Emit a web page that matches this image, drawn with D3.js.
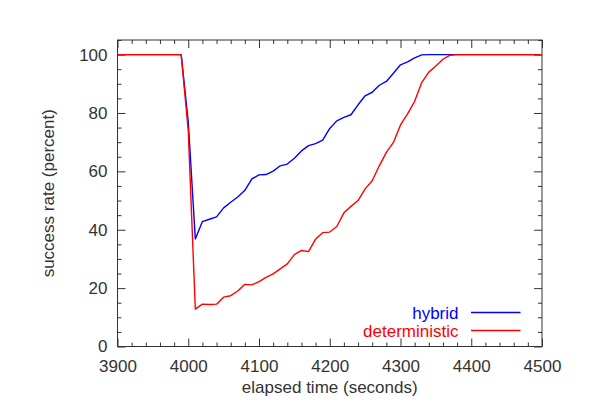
<!DOCTYPE html>
<html>
<head>
<meta charset="utf-8">
<script src="https://cdn.jsdelivr.net/npm/d3@7"></script>
<style>
  body { margin: 0; background: #fff; }
  text { font-family: "Liberation Sans", Arial, Helvetica, sans-serif; }
</style>
</head>
<body>
<div id="chart"></div>
<script>

// elapsed time, one sample every 10 seconds
var times = [
  3900, 3910, 3920, 3930, 3940, 3950, 3960, 3970, 3980, 3990,
  4000, 4010, 4020, 4030, 4040, 4050, 4060, 4070, 4080, 4090,
  4100, 4110, 4120, 4130, 4140, 4150, 4160, 4170, 4180, 4190,
  4200, 4210, 4220, 4230, 4240, 4250, 4260, 4270, 4280, 4290,
  4300, 4310, 4320, 4330, 4340, 4350, 4360, 4370, 4380, 4390,
  4400, 4410, 4420, 4430, 4440, 4450, 4460, 4470, 4480, 4490,
  4500
];

var hybrid = [
  100, 100, 100, 100, 100, 100, 100, 100, 100, 100,
  77, 36.8, 42.8, 43.6, 44.4, 47.5, 49.4, 51.2, 53.5, 57.4,
  58.8, 58.9, 60.1, 61.9, 62.5, 64.5, 67.0, 68.8, 69.5, 70.7,
  74.7, 77.3, 78.5, 79.4, 82.8, 85.9, 87.1, 89.5, 90.8, 93.6,
  96.5, 97.5, 98.9, 99.9, 100, 100, 100, 100, 100, 100,
  100, 100, 100, 100, 100, 100, 100, 100, 100, 100,
  100
];

var deterministic = [
  100, 100, 100, 100, 100, 100, 100, 100, 100, 100,
  74, 12.8, 14.5, 14.4, 14.5, 16.9, 17.4, 19.0, 21.3, 21.1,
  22.2, 23.7, 24.9, 26.6, 28.3, 31.5, 32.9, 32.5, 36.8, 39.0,
  39.2, 41.1, 45.8, 48.0, 50.0, 54.0, 56.8, 61.9, 66.5, 69.9,
  75.9, 79.7, 84.0, 90.4, 94.0, 96.1, 98.4, 99.8, 100, 100,
  100, 100, 100, 100, 100, 100, 100, 100, 100, 100,
  100
];

var xTicks = [3900, 4000, 4100, 4200, 4300, 4400, 4500];
var yTicks = [0, 20, 40, 60, 80, 100];

var seriesNames = ["hybrid", "deterministic"];
var seriesColors = ["#0000ff", "#ff0000"];

// set the dimensions and margins of the graph
var margin = {top: 40, right: 58, bottom: 73.5, left: 117.5},
    width = 600 - margin.left - margin.right,
    height = 420 - margin.top - margin.bottom;

var svg = d3.select("#chart")
  .append("svg")
    .attr("width", 600)
    .attr("height", 420)
  .append("g")
    .attr("transform", "translate(" + margin.left + "," + margin.top + ")");

var x = d3.scaleLinear()
  .domain([3900, 4500])
  .range([0, width]);

var y = d3.scaleLinear()
  .domain([0, 105])
  .range([height, 0]);

var axisColor = "#333";
var textColor = "#333";

// minor tick values (every 20 s, every 5 %), skipping the major ones
var xMinor = d3.range(3900, 4501, 20).filter(function(d) { return xTicks.indexOf(d) < 0; });
var yMinor = d3.range(0, 106, 5).filter(function(d) { return yTicks.indexOf(d) < 0; });

function styleAxis(g) {
  g.select(".domain").remove();
  g.selectAll("line").attr("stroke", axisColor);
  g.selectAll("text")
    .attr("fill", textColor)
    .style("font-size", "17px");
}

// bottom axis with labels, ticks pointing inside
svg.append("g")
  .attr("transform", "translate(0," + height + ")")
  .call(d3.axisBottom(x).tickValues(xTicks).tickFormat(d3.format("d"))
    .tickSizeInner(-8).tickSizeOuter(0).tickPadding(13))
  .call(styleAxis);
svg.append("g")
  .attr("transform", "translate(0," + height + ")")
  .call(d3.axisBottom(x).tickValues(xMinor).tickSizeInner(-4).tickSizeOuter(0).tickFormat(""))
  .call(styleAxis);

// top axis, no labels
svg.append("g")
  .call(d3.axisTop(x).tickValues(xTicks).tickSizeInner(-8).tickSizeOuter(0).tickFormat(""))
  .call(styleAxis);
svg.append("g")
  .call(d3.axisTop(x).tickValues(xMinor).tickSizeInner(-4).tickSizeOuter(0).tickFormat(""))
  .call(styleAxis);

// left axis with labels
svg.append("g")
  .call(d3.axisLeft(y).tickValues(yTicks).tickFormat(d3.format("d"))
    .tickSizeInner(-8).tickSizeOuter(0).tickPadding(10))
  .call(styleAxis);
svg.append("g")
  .call(d3.axisLeft(y).tickValues(yMinor).tickSizeInner(-4).tickSizeOuter(0).tickFormat(""))
  .call(styleAxis);

// right axis, no labels
svg.append("g")
  .attr("transform", "translate(" + width + ",0)")
  .call(d3.axisRight(y).tickValues(yTicks).tickSizeInner(-8).tickSizeOuter(0).tickFormat(""))
  .call(styleAxis);
svg.append("g")
  .attr("transform", "translate(" + width + ",0)")
  .call(d3.axisRight(y).tickValues(yMinor).tickSizeInner(-4).tickSizeOuter(0).tickFormat(""))
  .call(styleAxis);

// frame round the plot
svg.append("rect")
  .attr("x", 0)
  .attr("y", 0)
  .attr("width", width)
  .attr("height", height)
  .attr("fill", "none")
  .attr("stroke", axisColor)
  .attr("stroke-width", 1);

// the two lines
var line = d3.line()
  .x(function(d) { return x(d.t); })
  .y(function(d) { return y(d.v); });

[hybrid, deterministic].forEach(function(values, i) {
  var lineData = times.map(function(t, j) { return {t: t, v: values[j]}; });
  svg.append("path")
    .datum(lineData)
    .attr("fill", "none")
    .attr("stroke", seriesColors[i])
    .attr("stroke-width", 1.4)
    .attr("stroke-linejoin", "round")
    .attr("d", line);
});

// legend, bottom right inside the plot
var legend = svg.append("g")
  .attr("transform", "translate(" + (width - 83.5) + "," + (height - 34) + ")");

seriesNames.forEach(function(name, i) {
  var row = legend.append("g")
    .attr("transform", "translate(0," + (i * 18) + ")");
  row.append("text")
    .attr("x", 0)
    .attr("y", 6)
    .attr("text-anchor", "end")
    .attr("fill", seriesColors[i])
    .style("font-size", "17px")
    .text(name);
  row.append("line")
    .attr("x1", 12.5)
    .attr("x2", 62)
    .attr("y1", 0)
    .attr("y2", 0)
    .attr("stroke", seriesColors[i])
    .attr("stroke-width", 1.4);
});

// axis titles
svg.append("text")
  .attr("x", width / 2)
  .attr("y", height + 46.5)
  .attr("text-anchor", "middle")
  .attr("fill", textColor)
  .style("font-size", "17px")
  .text("elapsed time (seconds)");

svg.append("text")
  .attr("transform", "translate(" + (54 - margin.left) + "," + (height / 2) + ") rotate(-90)")
  .attr("text-anchor", "middle")
  .attr("fill", textColor)
  .style("font-size", "17px")
  .text("success rate (percent)");

</script>
</body>
</html>
